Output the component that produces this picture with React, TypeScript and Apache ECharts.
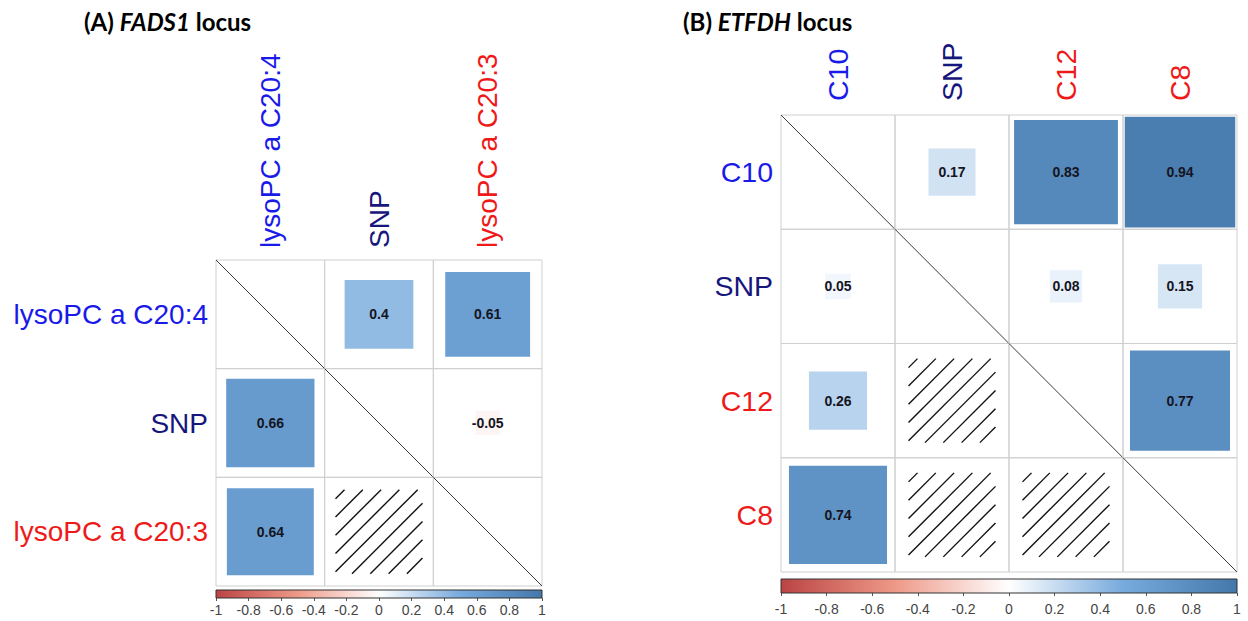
import React, { useEffect, useRef } from "react";
import * as echarts from "echarts";

// ---------- data ----------
const labelsA = ["lysoPC a C20:4", "SNP", "lysoPC a C20:3"];
const labelColorsA = ["#1a1ae8", "#16167c", "#ee1a1a"];
// diagonal = 1 (not drawn), null = not significant (hatched)
const corrA: (number | null)[][] = [
  [1, 0.4, 0.61],
  [0.66, 1, -0.05],
  [0.64, null, 1],
];

const labelsB = ["C10", "SNP", "C12", "C8"];
const labelColorsB = ["#1a1ae8", "#16167c", "#ee1a1a", "#ee1a1a"];
const corrB: (number | null)[][] = [
  [1, 0.17, 0.83, 0.94],
  [0.05, 1, 0.08, 0.15],
  [0.26, null, 1, 0.77],
  [0.74, null, null, 1],
];

const colorbarTicks = [-1, -0.8, -0.6, -0.4, -0.2, 0, 0.2, 0.4, 0.6, 0.8, 1];
const paletteStops = [-1, -0.5, 0, 0.5, 1];
const paletteColors = ["#BB4444", "#EE9988", "#FFFFFF", "#77AADD", "#4477AA"];

// ---------- helpers ----------
function hexToRgb(h: string) {
  const n = parseInt(h.slice(1), 16);
  return [(n >> 16) & 255, (n >> 8) & 255, n & 255];
}
function corrColor(v: number) {
  for (let i = 0; i < paletteStops.length - 1; i++) {
    const a = paletteStops[i], b = paletteStops[i + 1];
    if (v >= a && v <= b) {
      const t = (v - a) / (b - a);
      const c0 = hexToRgb(paletteColors[i]), c1 = hexToRgb(paletteColors[i + 1]);
      const c = c0.map((x, k) => Math.round(x + (c1[k] - x) * t));
      return `rgb(${c[0]},${c[1]},${c[2]})`;
    }
  }
  return paletteColors[paletteColors.length - 1];
}

type Cell = { c: number; r: number; v: number | null; kind: "diag" | "insig" | "val" };
function buildCells(m: (number | null)[][]): Cell[] {
  const out: Cell[] = [];
  m.forEach((row, r) =>
    row.forEach((v, c) => {
      out.push({ c, r, v, kind: r === c ? "diag" : v === null ? "insig" : "val" });
    })
  );
  return out;
}

const FONT = '"Liberation Sans", Arial, sans-serif';

function makeRender(cells: Cell[]) {
  return (params: any, api: any) => {
    const cell = cells[params.dataIndex];
    const p = api.coord([cell.c, cell.r]);
    const sz = api.size([1, 1]);
    const w = sz[0], h = sz[1];
    const cx = p[0], cy = p[1];
    const children: any[] = [
      {
        type: "rect",
        shape: { x: cx - w / 2, y: cy - h / 2, width: w, height: h },
        style: { fill: "none", stroke: "#cfcfcf", lineWidth: 1 },
      },
    ];
    if (cell.kind === "diag") {
      children.push({
        type: "line",
        shape: { x1: cx - w / 2, y1: cy - h / 2, x2: cx + w / 2, y2: cy + h / 2 },
        style: { stroke: "#3a3a3a", lineWidth: 1 },
      });
    } else if (cell.kind === "insig") {
      const HW = 87, HH = 84;
      const x0 = cx - HW / 2, x1 = cx + HW / 2, y0 = cy - HH / 2, y1 = cy + HH / 2;
      const step = 18.3;
      for (let k = x0 + y0 + 9; k < x1 + y1 - 2; k += step) {
        const ax = Math.max(x0, k - y1);
        const bx = Math.min(x1, k - y0);
        if (bx - ax < 1) continue;
        children.push({
          type: "line",
          shape: { x1: ax, y1: k - ax, x2: bx, y2: k - bx },
          style: { stroke: "#111", lineWidth: 1.4 },
        });
      }
    } else {
      const v = cell.v as number;
      const s = Math.sqrt(Math.abs(v));
      const sw = w * s, sh = h * s;
      children.push({
        type: "rect",
        shape: { x: cx - sw / 2, y: cy - sh / 2, width: sw, height: sh },
        style: { fill: corrColor(v) },
      });
      children.push({
        type: "text",
        x: cx,
        y: cy,
        style: {
          text: String(v),
          fill: "#15151f",
          fontSize: 14,
          fontWeight: "bold",
          fontFamily: FONT,
          align: "center",
          verticalAlign: "middle",
        },
      });
    }
    return { type: "group", children };
  };
}

function colorbarRender(params: any, api: any) {
  const p0 = api.coord([colorbarTicks[0], 1]);
  const p1 = api.coord([colorbarTicks[colorbarTicks.length - 1], 0]);
  const stops = paletteStops.map((s, i) => ({
    offset: (s - paletteStops[0]) / (paletteStops[paletteStops.length - 1] - paletteStops[0]),
    color: paletteColors[i],
  }));
  return {
    type: "rect",
    shape: { x: p0[0], y: p0[1], width: p1[0] - p0[0], height: p1[1] - p0[1] },
    style: { fill: new echarts.graphic.LinearGradient(0, 0, 1, 0, stops), stroke: "#333", lineWidth: 1 },
  };
}

export default function App() {
  const ref = useRef<HTMLDivElement>(null);
  useEffect(() => {
    if (!ref.current) return;
    const chart = echarts.init(ref.current, undefined, { renderer: "svg" });
    const cellsA = buildCells(corrA);
    const cellsB = buildCells(corrB);

    const matrixX = (labels: string[], colors: string[], gi: number, margin: number, fs: number) => ({
      type: "category",
      gridIndex: gi,
      position: "top",
      data: labels,
      axisLine: { show: false },
      axisTick: { show: false },
      splitLine: { show: false },
      axisLabel: {
        rotate: -90,
        margin,
        fontSize: fs,
        fontFamily: FONT,
        color: (_v: any, i: number) => colors[i],
      },
    });
    const matrixY = (labels: string[], colors: string[], gi: number, fs: number) => ({
      type: "category",
      gridIndex: gi,
      inverse: true,
      data: labels,
      axisLine: { show: false },
      axisTick: { show: false },
      splitLine: { show: false },
      axisLabel: {
        margin: 8,
        fontSize: fs,
        fontFamily: FONT,
        color: (_v: any, i: number) => colors[i],
      },
    });
    const cbX = (gi: number, margin: number) => ({
      type: "value",
      gridIndex: gi,
      min: -1,
      max: 1,
      interval: 0.2,
      axisLine: { show: false },
      axisTick: { show: true, length: 3, lineStyle: { color: "#555" } },
      splitLine: { show: false },
      axisLabel: { margin, fontSize: 14, color: "#444", fontFamily: FONT },
    });
    const cbY = (gi: number) => ({ type: "value", gridIndex: gi, min: 0, max: 1, show: false });

    const titleRich = {
      b: { fontSize: 24, fontWeight: "bold", fontFamily: "Lato, sans-serif", fill: "#000" },
      bi: { fontSize: 24, fontWeight: "bold", fontStyle: "italic", fontFamily: "Lato, sans-serif", fill: "#000" },
    };

    chart.setOption({
      animation: false,
      backgroundColor: "#ffffff",
      grid: [
        { left: 216, top: 260, width: 326, height: 326 },
        { left: 781, top: 115, width: 456, height: 457 },
        { left: 216, top: 590, width: 326, height: 8 },
        { left: 781, top: 579, width: 456, height: 14 },
      ],
      xAxis: [
        matrixX(labelsA, labelColorsA, 0, 12, 28),
        matrixX(labelsB, labelColorsB, 1, 14, 28.5),
        cbX(2, 5),
        cbX(3, 9),
      ],
      yAxis: [
        matrixY(labelsA, labelColorsA, 0, 28),
        matrixY(labelsB, labelColorsB, 1, 28.5),
        cbY(2),
        cbY(3),
      ],
      graphic: [
        {
          type: "text",
          left: 84,
          top: 9,
          style: { text: "{b|(A) }{bi|FADS1}{b| locus}", rich: titleRich },
        },
        {
          type: "text",
          left: 683,
          top: 9,
          style: { text: "{b|(B) }{bi|ETFDH}{b| locus}", rich: titleRich },
        },
      ],
      series: [
        {
          type: "custom",
          xAxisIndex: 0,
          yAxisIndex: 0,
          renderItem: makeRender(cellsA),
          data: cellsA.map((d) => [d.c, d.r]),
          silent: true,
        },
        {
          type: "custom",
          xAxisIndex: 1,
          yAxisIndex: 1,
          renderItem: makeRender(cellsB),
          data: cellsB.map((d) => [d.c, d.r]),
          silent: true,
        },
        {
          type: "custom",
          xAxisIndex: 2,
          yAxisIndex: 2,
          renderItem: colorbarRender,
          data: [[0, 0.5]],
          silent: true,
        },
        {
          type: "custom",
          xAxisIndex: 3,
          yAxisIndex: 3,
          renderItem: colorbarRender,
          data: [[0, 0.5]],
          silent: true,
        },
      ],
    });
    return () => chart.dispose();
  }, []);
  return (
    <div
      ref={ref}
      style={{ position: "fixed", left: 0, top: 0, width: 1248, height: 621, background: "#fff" }}
    />
  );
}
